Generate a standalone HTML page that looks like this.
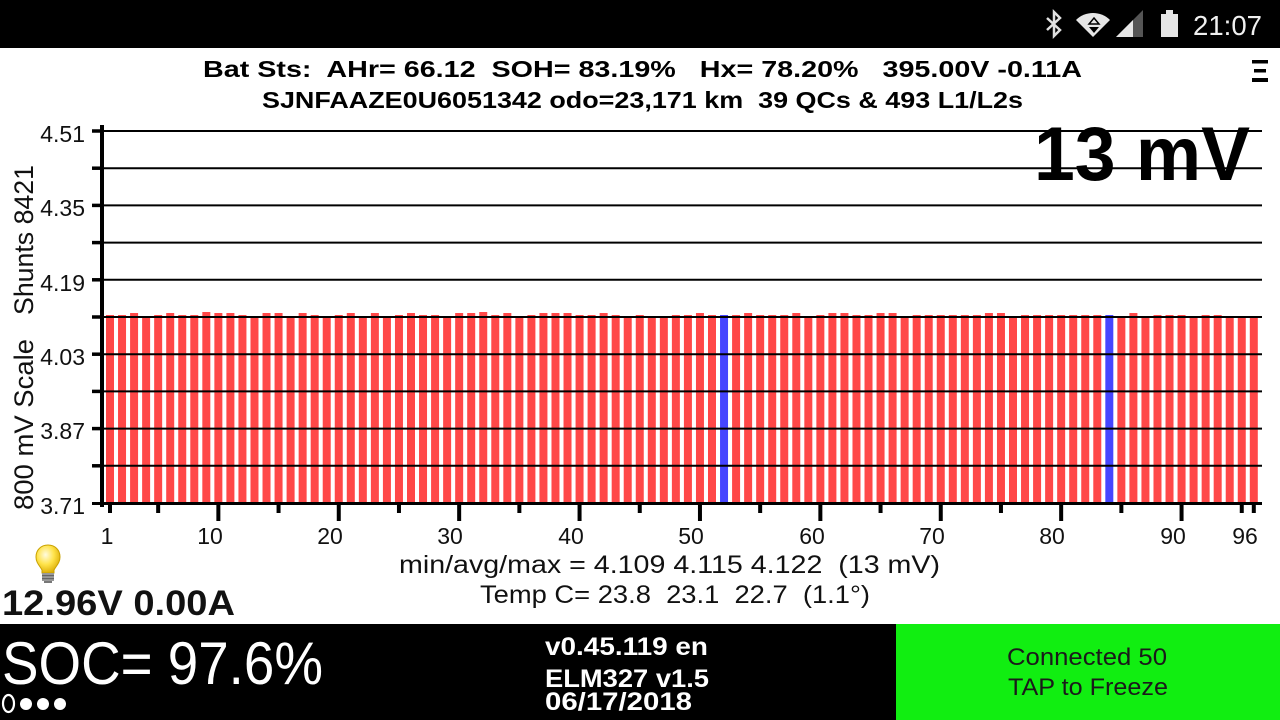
<!DOCTYPE html>
<html><head><meta charset="utf-8"><style>
html,body{margin:0;padding:0;background:#fff;width:1280px;height:720px;overflow:hidden}
svg{display:block}
text{font-family:"Liberation Sans",Arial,sans-serif}
</style></head><body>
<svg width="1280" height="720" viewBox="0 0 1280 720" xmlns="http://www.w3.org/2000/svg">
<defs>
<radialGradient id="bulb" cx="0.4" cy="0.35" r="0.7">
<stop offset="0" stop-color="#fffbe0"/><stop offset="0.5" stop-color="#ffe34a"/><stop offset="1" stop-color="#d9a800"/>
</radialGradient>
</defs>
<rect x="0" y="0" width="1280" height="720" fill="#fff"/>
<!-- status bar -->
<rect x="0" y="0" width="1280" height="48" fill="#000"/>
<path d="M1047,18 L1060,30 L1054,36 L1054,12 L1060,18 L1047,30" stroke="#e0e0e0" stroke-width="2.5" fill="none" stroke-linejoin="miter"/>
<path d="M1093,37 L1076,20 A24,24 0 0 1 1110,20 Z" fill="#e6e6e6"/>
<path d="M1094,18 L1099,24 L1089,24 Z" fill="#e6e6e6" stroke="#000" stroke-width="1.5"/>
<path d="M1089,27 L1099,27 L1094,33 Z" fill="#000"/>
<polygon points="1116,37 1143,37 1143,10" fill="#555"/>
<polygon points="1116,37 1133,37 1133,20" fill="#e6e6e6"/>
<rect x="1166" y="10" width="7" height="4" fill="#e6e6e6"/>
<rect x="1161" y="14" width="17" height="23" fill="#e6e6e6"/>
<text x="1193" y="35" font-size="28" fill="#f0f0f0" textLength="69" lengthAdjust="spacingAndGlyphs">21:07</text>

<!-- titles -->
<text x="203" y="77" font-size="23" font-weight="bold" fill="#000" xml:space="preserve" textLength="879" lengthAdjust="spacingAndGlyphs">Bat Sts:  AHr= 66.12  SOH= 83.19%   Hx= 78.20%   395.00V -0.11A</text>
<text x="262" y="108" font-size="23" font-weight="bold" fill="#000" xml:space="preserve" textLength="761" lengthAdjust="spacingAndGlyphs">SJNFAAZE0U6051342 odo=23,171 km  39 QCs &amp; 493 L1/L2s</text>
<rect x="1252" y="60" width="16" height="3.5" fill="#000"/>
<rect x="1254" y="69" width="12" height="3.5" fill="#000"/>
<rect x="1252" y="78" width="16" height="4" fill="#000"/>

<!-- bars -->
<g fill="#ff4848">
<rect x="106" y="315" width="8" height="188"/>
<rect x="118.04" y="315" width="8" height="188"/>
<rect x="130.08" y="313" width="8" height="190"/>
<rect x="142.12" y="317" width="8" height="186"/>
<rect x="154.16" y="315" width="8" height="188"/>
<rect x="166.2" y="313" width="8" height="190"/>
<rect x="178.24" y="315" width="8" height="188"/>
<rect x="190.28" y="315" width="8" height="188"/>
<rect x="202.32" y="312" width="8" height="191"/>
<rect x="214.36" y="313" width="8" height="190"/>
<rect x="226.4" y="313" width="8" height="190"/>
<rect x="238.44" y="315" width="8" height="188"/>
<rect x="250.48" y="317" width="8" height="186"/>
<rect x="262.52" y="313" width="8" height="190"/>
<rect x="274.56" y="313" width="8" height="190"/>
<rect x="286.6" y="317" width="8" height="186"/>
<rect x="298.64" y="313" width="8" height="190"/>
<rect x="310.68" y="315" width="8" height="188"/>
<rect x="322.72" y="317" width="8" height="186"/>
<rect x="334.76" y="315" width="8" height="188"/>
<rect x="346.8" y="313" width="8" height="190"/>
<rect x="358.84" y="317" width="8" height="186"/>
<rect x="370.88" y="313" width="8" height="190"/>
<rect x="382.92" y="317" width="8" height="186"/>
<rect x="394.96" y="315" width="8" height="188"/>
<rect x="407" y="313" width="8" height="190"/>
<rect x="419.04" y="315" width="8" height="188"/>
<rect x="431.08" y="315" width="8" height="188"/>
<rect x="443.12" y="317" width="8" height="186"/>
<rect x="455.16" y="313" width="8" height="190"/>
<rect x="467.2" y="313" width="8" height="190"/>
<rect x="479.24" y="312" width="8" height="191"/>
<rect x="491.28" y="315" width="8" height="188"/>
<rect x="503.32" y="313" width="8" height="190"/>
<rect x="515.36" y="317" width="8" height="186"/>
<rect x="527.4" y="315" width="8" height="188"/>
<rect x="539.44" y="313" width="8" height="190"/>
<rect x="551.48" y="313" width="8" height="190"/>
<rect x="563.52" y="313" width="8" height="190"/>
<rect x="575.56" y="315" width="8" height="188"/>
<rect x="587.6" y="315" width="8" height="188"/>
<rect x="599.64" y="313" width="8" height="190"/>
<rect x="611.68" y="315" width="8" height="188"/>
<rect x="623.72" y="318" width="8" height="185"/>
<rect x="635.76" y="315" width="8" height="188"/>
<rect x="647.8" y="317" width="8" height="186"/>
<rect x="659.84" y="317" width="8" height="186"/>
<rect x="671.88" y="315" width="8" height="188"/>
<rect x="683.92" y="315" width="8" height="188"/>
<rect x="695.96" y="313" width="8" height="190"/>
<rect x="708" y="315" width="8" height="188"/>
<rect x="732.08" y="315" width="8" height="188"/>
<rect x="744.12" y="313" width="8" height="190"/>
<rect x="756.16" y="315" width="8" height="188"/>
<rect x="768.2" y="315" width="8" height="188"/>
<rect x="780.24" y="315" width="8" height="188"/>
<rect x="792.28" y="313" width="8" height="190"/>
<rect x="804.32" y="317" width="8" height="186"/>
<rect x="816.36" y="315" width="8" height="188"/>
<rect x="828.4" y="313" width="8" height="190"/>
<rect x="840.44" y="313" width="8" height="190"/>
<rect x="852.48" y="315" width="8" height="188"/>
<rect x="864.52" y="315" width="8" height="188"/>
<rect x="876.56" y="313" width="8" height="190"/>
<rect x="888.6" y="313" width="8" height="190"/>
<rect x="900.64" y="317" width="8" height="186"/>
<rect x="912.68" y="315" width="8" height="188"/>
<rect x="924.72" y="315" width="8" height="188"/>
<rect x="936.76" y="315" width="8" height="188"/>
<rect x="948.8" y="315" width="8" height="188"/>
<rect x="960.84" y="315" width="8" height="188"/>
<rect x="972.88" y="315" width="8" height="188"/>
<rect x="984.92" y="313" width="8" height="190"/>
<rect x="996.96" y="313" width="8" height="190"/>
<rect x="1009" y="317" width="8" height="186"/>
<rect x="1021.04" y="315" width="8" height="188"/>
<rect x="1033.08" y="315" width="8" height="188"/>
<rect x="1045.12" y="315" width="8" height="188"/>
<rect x="1057.16" y="315" width="8" height="188"/>
<rect x="1069.2" y="315" width="8" height="188"/>
<rect x="1081.24" y="315" width="8" height="188"/>
<rect x="1093.28" y="315" width="8" height="188"/>
<rect x="1117.36" y="317" width="8" height="186"/>
<rect x="1129.4" y="313" width="8" height="190"/>
<rect x="1141.44" y="317" width="8" height="186"/>
<rect x="1153.48" y="315" width="8" height="188"/>
<rect x="1165.52" y="315" width="8" height="188"/>
<rect x="1177.56" y="315" width="8" height="188"/>
<rect x="1189.6" y="317" width="8" height="186"/>
<rect x="1201.64" y="315" width="8" height="188"/>
<rect x="1213.68" y="315" width="8" height="188"/>
<rect x="1225.72" y="317" width="8" height="186"/>
<rect x="1237.76" y="317" width="8" height="186"/>
<rect x="1249.8" y="317" width="8" height="186"/>
</g>
<g fill="#4646ff">
<rect x="720.04" y="315" width="8" height="188"/>
<rect x="1105.32" y="315" width="8" height="188"/>
</g>

<!-- gridlines -->
<g stroke="#000" stroke-width="2">
<line x1="104" y1="131" x2="1262" y2="131"/>
<line x1="104" y1="168.2" x2="1262" y2="168.2"/>
<line x1="104" y1="205.4" x2="1262" y2="205.4"/>
<line x1="104" y1="242.6" x2="1262" y2="242.6"/>
<line x1="104" y1="279.8" x2="1262" y2="279.8"/>
<line x1="104" y1="317" x2="1262" y2="317"/>
<line x1="104" y1="354.2" x2="1262" y2="354.2"/>
<line x1="104" y1="391.4" x2="1262" y2="391.4"/>
<line x1="104" y1="428.6" x2="1262" y2="428.6"/>
<line x1="104" y1="465.8" x2="1262" y2="465.8"/>
</g>
<!-- y ticks -->
<g stroke="#000" stroke-width="3.5">
<line x1="92" y1="131" x2="101" y2="131"/>
<line x1="92" y1="168.2" x2="101" y2="168.2"/>
<line x1="92" y1="205.4" x2="101" y2="205.4"/>
<line x1="92" y1="242.6" x2="101" y2="242.6"/>
<line x1="92" y1="279.8" x2="101" y2="279.8"/>
<line x1="92" y1="317" x2="101" y2="317"/>
<line x1="92" y1="354.2" x2="101" y2="354.2"/>
<line x1="92" y1="391.4" x2="101" y2="391.4"/>
<line x1="92" y1="428.6" x2="101" y2="428.6"/>
<line x1="92" y1="465.8" x2="101" y2="465.8"/>
</g>
<!-- axes -->
<rect x="100" y="125" width="4" height="382" fill="#000"/>
<rect x="92" y="502" width="1170" height="3" fill="#000"/>
<!-- x ticks -->
<g fill="#000">
<rect x="108" y="504" width="4" height="9"/>
<rect x="156.16" y="504" width="4" height="9"/>
<rect x="216.36" y="504" width="4" height="17"/>
<rect x="276.56" y="504" width="4" height="9"/>
<rect x="336.76" y="504" width="4" height="17"/>
<rect x="396.96" y="504" width="4" height="9"/>
<rect x="457.16" y="504" width="4" height="17"/>
<rect x="517.36" y="504" width="4" height="9"/>
<rect x="577.56" y="504" width="4" height="17"/>
<rect x="637.76" y="504" width="4" height="9"/>
<rect x="697.96" y="504" width="4" height="17"/>
<rect x="758.16" y="504" width="4" height="9"/>
<rect x="818.36" y="504" width="4" height="17"/>
<rect x="878.56" y="504" width="4" height="9"/>
<rect x="938.76" y="504" width="4" height="17"/>
<rect x="998.96" y="504" width="4" height="9"/>
<rect x="1059.16" y="504" width="4" height="17"/>
<rect x="1119.36" y="504" width="4" height="9"/>
<rect x="1179.56" y="504" width="4" height="17"/>
<rect x="1239.76" y="504" width="4" height="9"/>
<rect x="1251.8" y="504" width="4" height="9"/>
</g>
<!-- y labels -->
<g font-size="23" fill="#111" text-anchor="end">
<text x="85" y="142">4.51</text>
<text x="85" y="216">4.35</text>
<text x="85" y="291">4.19</text>
<text x="85" y="365">4.03</text>
<text x="85" y="439">3.87</text>
<text x="85" y="514">3.71</text>
</g>
<!-- x labels -->
<g font-size="23" fill="#111" text-anchor="middle">
<text x="107" y="544">1</text>
<text x="210" y="544">10</text>
<text x="330" y="544">20</text>
<text x="450" y="544">30</text>
<text x="571" y="544">40</text>
<text x="691" y="544">50</text>
<text x="812" y="544">60</text>
<text x="932" y="544">70</text>
<text x="1052" y="544">80</text>
<text x="1173" y="544">90</text>
<text x="1245" y="544">96</text>
</g>
<!-- y title -->
<g font-size="27" fill="#111">
<text transform="translate(33,510) rotate(-90)" textLength="171" lengthAdjust="spacingAndGlyphs">800 mV Scale</text>
<text transform="translate(33,315) rotate(-90)" textLength="150" lengthAdjust="spacingAndGlyphs">Shunts 8421</text>
</g>
<!-- big label -->
<text x="1034" y="180" font-size="76" font-weight="bold" fill="#000" textLength="216" lengthAdjust="spacingAndGlyphs">13 mV</text>

<!-- stats -->
<text x="399" y="573" font-size="25" fill="#111" xml:space="preserve" textLength="541" lengthAdjust="spacingAndGlyphs">min/avg/max = 4.109 4.115 4.122  (13 mV)</text>
<text x="480" y="603" font-size="25" fill="#111" xml:space="preserve" textLength="390" lengthAdjust="spacingAndGlyphs">Temp C= 23.8  23.1  22.7  (1.1°)</text>

<!-- bulb -->
<path d="M48,545 C55,545 60,550 60,557 C60,563 56,566 54,570 L54,573 L42,573 L42,570 C40,566 36,563 36,557 C36,550 41,545 48,545 Z" fill="url(#bulb)" stroke="#c9a200" stroke-width="1"/>
<rect x="42" y="573" width="12" height="8" fill="#9a9a9a"/>
<rect x="42" y="575" width="12" height="1.2" fill="#666"/>
<rect x="42" y="578" width="12" height="1.2" fill="#666"/>
<rect x="44" y="581" width="8" height="2" fill="#777"/>
<text x="2" y="615" font-size="35" font-weight="bold" fill="#111" textLength="233" lengthAdjust="spacingAndGlyphs">12.96V 0.00A</text>

<!-- bottom panel -->
<rect x="0" y="624" width="896" height="96" fill="#000"/>
<rect x="896" y="624" width="384" height="96" fill="#11ee11"/>
<text x="2" y="684" font-size="60" fill="#fff" textLength="321" lengthAdjust="spacingAndGlyphs">SOC= 97.6%</text>
<ellipse cx="8.5" cy="703.5" rx="5.5" ry="8.5" fill="none" stroke="#fff" stroke-width="2.2"/>
<circle cx="26" cy="704" r="6" fill="#fff"/>
<circle cx="43" cy="704" r="6" fill="#fff"/>
<circle cx="60" cy="704" r="6" fill="#fff"/>
<g font-size="25" font-weight="bold" fill="#fff">
<text x="545" y="655" textLength="163" lengthAdjust="spacingAndGlyphs">v0.45.119 en</text>
<text x="545" y="687" textLength="164" lengthAdjust="spacingAndGlyphs">ELM327 v1.5</text>
<text x="545" y="710" textLength="147" lengthAdjust="spacingAndGlyphs">06/17/2018</text>
</g>
<g font-size="24" fill="#1a1a1a">
<text x="1007" y="665" textLength="160" lengthAdjust="spacingAndGlyphs">Connected 50</text>
<text x="1008" y="695" textLength="160" lengthAdjust="spacingAndGlyphs">TAP to Freeze</text>
</g>
</svg>
</body></html>
